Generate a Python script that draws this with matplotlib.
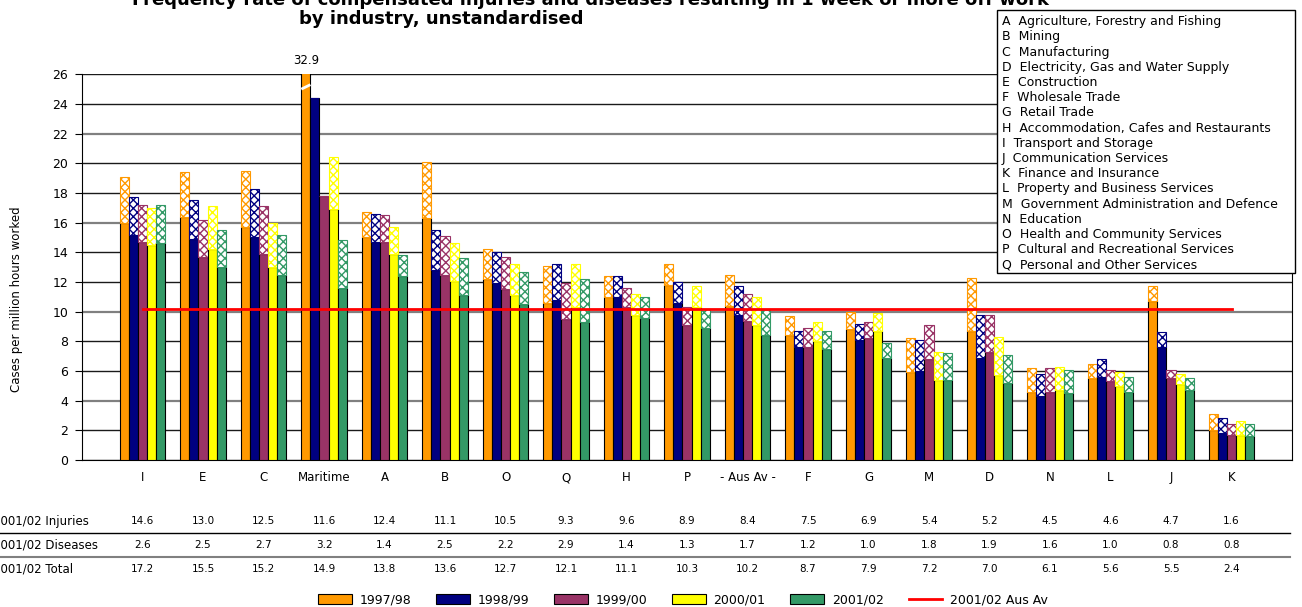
import numpy as np
import matplotlib.pyplot as plt
import matplotlib.transforms as mtransforms
from matplotlib.patches import Patch, Rectangle
from matplotlib.lines import Line2D

plt.rcParams['font.family'] = ['DejaVu Sans']
plt.rcParams['hatch.linewidth'] = 1.0

# data
categories = ['I', 'E', 'C', 'Maritime', 'A', 'B', 'O', 'Q', 'H', 'P', '- Aus Av -',
              'F', 'G', 'M', 'D', 'N', 'L', 'J', 'K']
years = ['1997/98', '1998/99', '1999/00', '2000/01', '2001/02']
colors = ['#FF9900', '#000080', '#993366', '#FFFF00', '#339966']

inj_9798 = [16.0, 16.4, 15.7, 32.9, 15.0, 16.3, 12.2, 10.6, 11.0, 11.8, 10.4, 8.4, 8.8, 5.9, 8.7, 4.6, 5.5, 10.7, 2.0]
dis_9798 = [3.1, 3.0, 3.8, 0.0, 1.7, 3.8, 2.0, 2.5, 1.4, 1.4, 2.1, 1.3, 1.2, 2.3, 3.6, 1.6, 1.0, 1.0, 1.1]
inj_9899 = [15.2, 14.9, 15.0, 24.4, 14.7, 12.8, 11.9, 10.8, 11.0, 10.6, 9.8, 7.6, 8.1, 6.0, 6.9, 4.3, 5.6, 7.6, 1.8]
dis_9899 = [2.5, 2.6, 3.3, 0.0, 1.9, 2.7, 2.1, 2.4, 1.4, 1.4, 1.9, 1.1, 1.1, 2.1, 2.9, 1.5, 1.2, 1.0, 1.0]
inj_9900 = [14.7, 13.7, 13.9, 17.8, 14.7, 12.5, 11.5, 9.5, 10.3, 9.1, 9.4, 7.6, 8.2, 6.8, 7.3, 4.6, 5.3, 5.5, 1.7]
dis_9900 = [2.5, 2.5, 3.2, 0.0, 1.8, 2.6, 2.2, 2.4, 1.3, 1.2, 1.8, 1.3, 1.1, 2.3, 2.5, 1.6, 0.8, 0.6, 0.7]
inj_0001 = [14.5, 14.2, 13.0, 16.9, 13.9, 12.1, 11.1, 10.3, 9.8, 10.3, 9.1, 8.0, 8.7, 5.4, 5.7, 4.7, 5.0, 5.1, 1.7]
dis_0001 = [2.5, 2.9, 3.0, 3.5, 1.8, 2.5, 2.1, 2.9, 1.4, 1.4, 1.9, 1.3, 1.2, 1.9, 2.6, 1.6, 0.9, 0.7, 0.9]
inj_0102 = [14.6, 13.0, 12.5, 11.6, 12.4, 11.1, 10.5, 9.3, 9.6, 8.9, 8.4, 7.5, 6.9, 5.4, 5.2, 4.5, 4.6, 4.7, 1.6]
dis_0102 = [2.6, 2.5, 2.7, 3.2, 1.4, 2.5, 2.2, 2.9, 1.4, 1.3, 1.7, 1.2, 1.0, 1.8, 1.9, 1.6, 1.0, 0.8, 0.8]
total_0102 = [17.2, 15.5, 15.2, 14.9, 13.8, 13.6, 12.7, 12.1, 11.1, 10.3, 10.2, 8.7, 7.9, 7.2, 7.0, 6.1, 5.6, 5.5, 2.4]
aus_av_0102 = 10.2

key_codes = list('ABCDEFGHIJKLMNOPQ')
key_names = ['Agriculture, Forestry and Fishing', 'Mining', 'Manufacturing',
             'Electricity, Gas and Water Supply', 'Construction', 'Wholesale Trade',
             'Retail Trade', 'Accommodation, Cafes and Restaurants', 'Transport and Storage',
             'Communication Services', 'Finance and Insurance', 'Property and Business Services',
             'Government Administration and Defence', 'Education', 'Health and Community Services',
             'Cultural and Recreational Services', 'Personal and Other Services']

injuries = [inj_9798, inj_9899, inj_9900, inj_0001, inj_0102]
diseases = [dis_9798, dis_9899, dis_9900, dis_0001, dis_0102]

W, H = 1302, 607
fig = plt.figure(figsize=(W / 100, H / 100), dpi=100)
ax = fig.add_axes([82 / W, 1 - 460 / H, (1292 - 82) / W, (460 - 74.3) / H])

x = np.arange(len(categories))
bw = 0.15
for k in range(len(years)):
    pos = x + (k - 2) * bw
    ax.bar(pos, injuries[k], bw, color=colors[k], edgecolor='black', linewidth=0.8, zorder=3)
    ax.bar(pos, diseases[k], bw, bottom=injuries[k], color='white', edgecolor=colors[k],
           hatch='xxxx', linewidth=0.8, zorder=3)

ax.set_xlim(-1, len(categories))
ax.set_ylim(0, 26)

# broken bar for Maritime 1997/98
mi = categories.index('Maritime')
bx = mi - 2 * bw
top = ax.get_ylim()[1]
ax.plot([bx - bw / 2, bx + bw / 2], [top - 1.0, top - 0.7], color='white', lw=2, zorder=5,
        solid_capstyle='butt')
ax.annotate(f'{inj_9798[mi] + dis_9798[mi]:.1f}', xy=(bx, top), xytext=(0, 5),
            textcoords='offset points', ha='center', va='bottom', fontsize=8.5,
            annotation_clip=False)

# average line
ax.plot([x[0], x[-1]], [aus_av_0102, aus_av_0102], color='red', lw=2, zorder=4)

ax.set_yticks(np.arange(0, 27, 2))
ax.tick_params(axis='y', length=5, labelsize=9, pad=5)
ax.set_xticks(x)
ax.set_xticklabels(categories, fontsize=8.5)
ax.tick_params(axis='x', length=0, pad=8)
ax.spines['top'].set_visible(False)
ax.set_axisbelow(True)
ax.yaxis.grid(True, color='#1a1a1a', lw=1)
for val, gl in zip(ax.get_yticks(), ax.get_ygridlines()):
    if val in (4, 10, 16, 22):
        gl.set_color('#808080')
        gl.set_linewidth(1.6)

fig.text(17 / W, 1 - 299 / H, 'Cases per million hours worked', rotation=90,
         ha='center', va='center', fontsize=8.5)

# title (first line runs off the top, as in the source)
fig.text(590 / W, 1 - 5 / H,
         'Frequency rate of compensated injuries and diseases resulting in 1 week or more off work',
         ha='center', va='baseline', fontsize=13, fontweight='bold')
fig.text(441 / W, 1 - 24 / H, 'by industry, unstandardised',
         ha='center', va='baseline', fontsize=13, fontweight='bold')

# data table under the chart
trans = mtransforms.blended_transform_factory(ax.transData, fig.transFigure)
rows = [('2001/02 Injuries', inj_0102), ('2001/02 Diseases', dis_0102), ('2001/02 Total', total_0102)]
row_y = [521, 545, 569]
for (label, vals), yp in zip(rows, row_y):
    fig.text(-7 / W, 1 - yp / H, label, ha='left', va='center', fontsize=8.5)
    for xi, v in zip(x, vals):
        ax.text(xi, 1 - yp / H, f'{v:.1f}', transform=trans, ha='center', va='center',
                fontsize=7.5, clip_on=False)
fig.add_artist(Line2D([0, 1290 / W], [1 - 533 / H] * 2, color='black', lw=1))
fig.add_artist(Line2D([0, 1290 / W], [1 - 557 / H] * 2, color='#808080', lw=1.5))

# legend
handles = [Patch(facecolor=c, edgecolor='black', linewidth=0.8) for c in colors]
handles.append(Line2D([], [], color='red', lw=2))
labels = years + ['2001/02 Aus Av']
fig.legend(handles, labels, loc='center', bbox_to_anchor=(683 / W, 1 - 600 / H), ncol=6,
           frameon=False, fontsize=9, handlelength=2.7, handleheight=0.8,
           handletextpad=0.6, columnspacing=2.0)

# industry key
fig.add_artist(Rectangle((997 / W, 1 - 273 / H), (1295 - 997) / W, (273 - 10) / H,
                         transform=fig.transFigure, facecolor='white', edgecolor='black',
                         lw=1, zorder=5))
for i, (code, name) in enumerate(zip(key_codes, key_names)):
    fig.text(1002 / W, 1 - (21.7 + 15.2 * i) / H, f'{code}  {name}', ha='left', va='center',
             fontsize=9, zorder=6)

fig.savefig('out.png', dpi=100)
